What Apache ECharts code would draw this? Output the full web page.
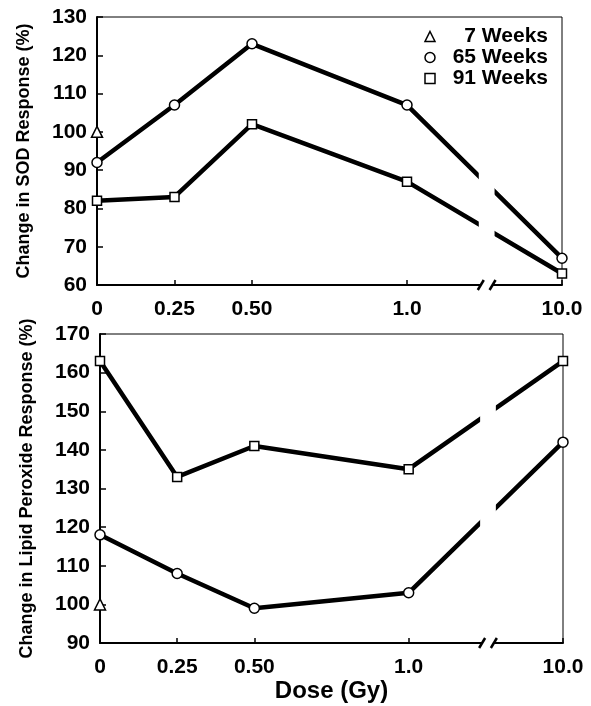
<!DOCTYPE html>
<html>
<head>
<meta charset="utf-8">
<script src="https://cdn.jsdelivr.net/npm/echarts@6/dist/echarts.min.js"></script>
<style>
  html, body { margin: 0; padding: 0; background: #fff; }
  #chart { width: 591px; height: 706px; }
</style>
</head>
<body>
<div id="chart"></div>
<script>
// dose ticks; 10.0 sits after the axis break, so it gets its own slot on the axis
const doseLabels = ["0", "0.25", "0.50", "1.0", "10.0"];
const dosePos = [0, 0.25, 0.5, 1.0, 1.5];

// SOD response (%)
const sod7 = [100];
const sod65 = [92, 107, 123, 107, 67];
const sod91 = [82, 83, 102, 87, 63];

// lipid peroxide response (%)
const lipid7 = [100];
const lipid65 = [118, 108, 99, 103, 142];
const lipid91 = [163, 133, 141, 135, 163];

const sodTicks = [60, 130];
const lipidTicks = [90, 170];

const FONT = "'Liberation Sans', Arial, Helvetica, sans-serif";
const BREAK_X = [1.238, 1.276]; // where the "//" marks go

function pairs(values) {
  return values.map((v, i) => [dosePos[i], v]);
}

function doseLabel(value) {
  const i = dosePos.indexOf(value);
  return i >= 0 ? doseLabels[i] : "";
}

function lineSeries(name, values, symbol, size, grid) {
  return {
    name: name,
    type: "line",
    xAxisIndex: grid,
    yAxisIndex: grid,
    data: pairs(values),
    symbol: symbol,
    symbolSize: size,
    showAllSymbol: true,
    z: 4,
    lineStyle: { color: "#000", width: 4.5 },
    itemStyle: { color: "#fff", borderColor: "#000", borderWidth: 1.5 },
    emphasis: { disabled: true },
  };
}

// white band that cuts the lines and the x axis at the break, plus the two slashes
function breakSeries(grid, yMin, yMax) {
  return {
    type: "custom",
    xAxisIndex: grid,
    yAxisIndex: grid,
    z: 6,
    silent: true,
    data: [[BREAK_X[0], BREAK_X[1], yMin, yMax]],
    encode: { x: [0, 1], y: [2, 3] },
    renderItem: function (params, api) {
      const a = api.coord([api.value(0), api.value(3)]);
      const b = api.coord([api.value(1), api.value(2)]);
      const base = b[1];
      return {
        type: "group",
        children: [
          {
            type: "rect",
            shape: { x: a[0] - 2, y: a[1] + 3, width: b[0] - a[0] + 4, height: base - a[1] - 6 },
            style: { fill: "#fff" },
          },
          {
            type: "rect",
            shape: { x: a[0], y: base - 3, width: b[0] - a[0], height: 6 },
            style: { fill: "#fff" },
          },
          {
            type: "line",
            shape: { x1: a[0] - 3, y1: base + 5, x2: a[0] + 3, y2: base - 5 },
            style: { stroke: "#000", lineWidth: 2.5 },
          },
          {
            type: "line",
            shape: { x1: b[0] - 3, y1: base + 5, x2: b[0] + 3, y2: base - 5 },
            style: { stroke: "#000", lineWidth: 2.5 },
          },
        ],
      };
    },
  };
}

function xAxis(grid, nameText) {
  return {
    type: "value",
    gridIndex: grid,
    min: 0,
    max: 1.5,
    interval: 0.25,
    name: nameText,
    nameLocation: "middle",
    nameGap: 36,
    nameTextStyle: { fontFamily: FONT, fontWeight: "bold", fontSize: 24, color: "#000" },
    axisLine: { lineStyle: { color: "#000", width: 2 } },
    axisTick: { inside: true, length: 5, lineStyle: { color: "#000", width: 1.5 }, customValues: dosePos },
    axisLabel: {
      customValues: dosePos,
      formatter: doseLabel,
      margin: 14,
      fontFamily: FONT,
      fontWeight: "bold",
      fontSize: 21,
      color: "#000",
    },
    splitLine: { show: false },
  };
}

function yAxis(grid, ticks, nameText) {
  return {
    type: "value",
    gridIndex: grid,
    min: ticks[0],
    max: ticks[1],
    interval: 10,
    name: nameText,
    nameLocation: "middle",
    nameRotate: 90,
    nameGap: 64,
    nameTextStyle: { fontFamily: FONT, fontWeight: "bold", fontSize: 18, color: "#000" },
    axisLine: { show: true, lineStyle: { color: "#000", width: 2 } },
    axisTick: { show: true, inside: true, length: 6, lineStyle: { color: "#000", width: 1.5 } },
    axisLabel: { margin: 10, fontFamily: FONT, fontWeight: "bold", fontSize: 21, color: "#000" },
    splitLine: { show: false },
  };
}

const option = {
  backgroundColor: "#fff",
  animation: false,
  grid: [
    { left: 97, top: 17, width: 465, height: 268, show: true, borderColor: "#000", borderWidth: 1, backgroundColor: "transparent" },
    { left: 100, top: 334, width: 463, height: 309, show: true, borderColor: "#000", borderWidth: 1, backgroundColor: "transparent" },
  ],
  legend: {
    orient: "vertical",
    right: 38,
    top: 21,
    z: 20,
    itemWidth: 10,
    itemHeight: 10,
    itemGap: 0,
    itemTextGap: 6,
    selectedMode: false,
    itemStyle: { color: "#fff", borderColor: "#000", borderWidth: 1.5 },
    textStyle: {
      fontFamily: FONT,
      fontWeight: "bold",
      fontSize: 21,
      color: "#000",
      rich: { t: { width: 108, lineHeight: 19, align: "right", fontFamily: FONT, fontWeight: "bold", fontSize: 21, color: "#000" } },
    },
    formatter: (name) => "{t|" + name + "}",
    data: [
      { name: "7 Weeks", icon: "triangle" },
      { name: "65 Weeks", icon: "circle" },
      { name: "91 Weeks", icon: "rect" },
    ],
  },
  xAxis: [xAxis(0, ""), xAxis(1, "Dose (Gy)")],
  yAxis: [
    yAxis(0, sodTicks, "Change in SOD Response (%)"),
    yAxis(1, lipidTicks, "Change in Lipid Peroxide Response (%)"),
  ],
  series: [
    lineSeries("65 Weeks", sod65, "circle", 10, 0),
    lineSeries("91 Weeks", sod91, "rect", 9, 0),
    lineSeries("7 Weeks", sod7, "triangle", 11, 0),
    breakSeries(0, sodTicks[0], sodTicks[1]),
    lineSeries("65 Weeks", lipid65, "circle", 10, 1),
    lineSeries("91 Weeks", lipid91, "rect", 9, 1),
    lineSeries("7 Weeks", lipid7, "triangle", 11, 1),
    breakSeries(1, lipidTicks[0], lipidTicks[1]),
  ],
};

const myChart = echarts.init(document.getElementById("chart"));
myChart.setOption(option);
</script>
</body>
</html>
